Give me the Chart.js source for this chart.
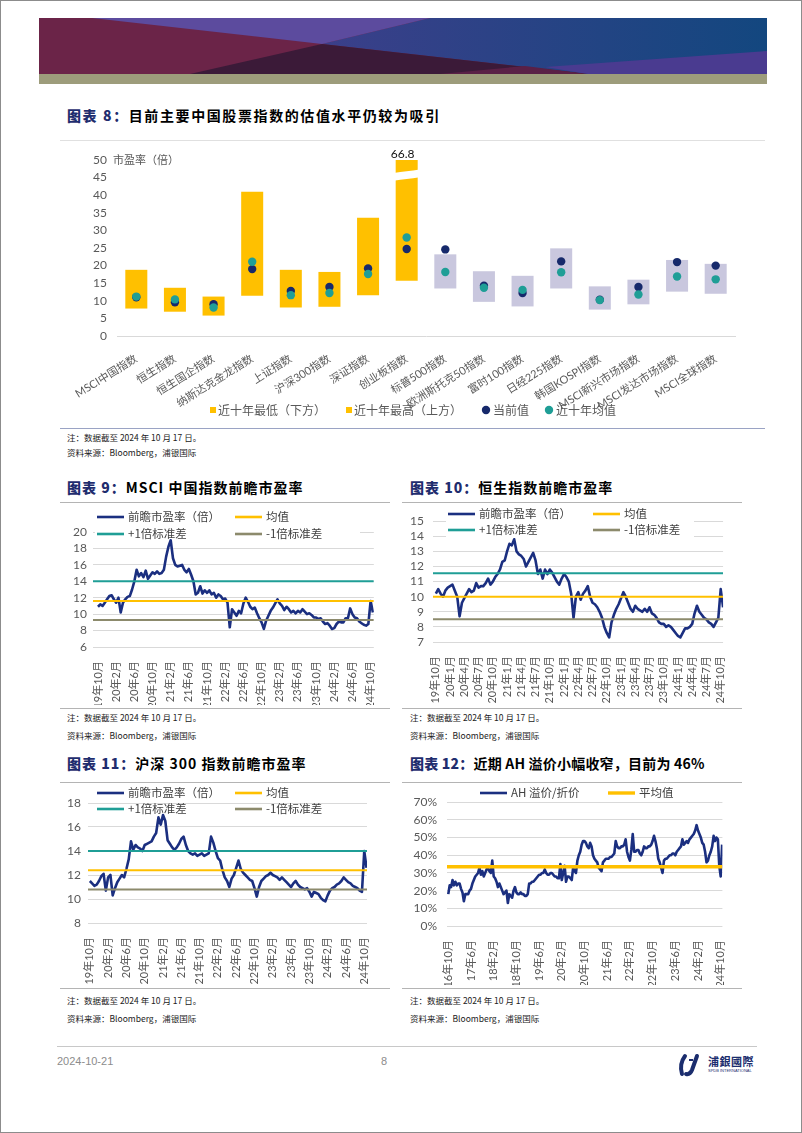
<!DOCTYPE html>
<html>
<head>
<meta charset="utf-8">
<script src="https://cdn.jsdelivr.net/npm/chart.js@4.4.1/dist/chart.umd.min.js"></script>
<style>
  html, body { margin: 0; padding: 0; background: #fff; }
  #page { position: relative; width: 802px; height: 1133px; overflow: hidden; font-family: 'Noto Sans CJK SC', sans-serif; }
  .frame { position: absolute; left: 0; top: 0; width: 800px; height: 1131px; border: 1px solid #8c8c8c; }
  .abs { position: absolute; }
  .title { position: absolute; font-weight: 700; font-size: 14px; line-height: 18px; color: #000; white-space: nowrap; letter-spacing: 1px; }
  .title b { color: #1f2d6e; }
  .note { position: absolute; font-size: 8.5px; line-height: 11px; color: #222; white-space: nowrap; }
  .hr { position: absolute; height: 1px; }
  canvas { position: absolute; }
</style>
</head>
<body>
<div id="page">
  <div class="frame"></div>

  <!-- header banner -->
  <svg class="abs" style="left:0;top:0" width="802" height="90">
    <defs>
      <linearGradient id="gb" x1="322" y1="0" x2="767" y2="0" gradientUnits="userSpaceOnUse">
        <stop offset="0" stop-color="#3b3f8a"/><stop offset="1" stop-color="#13477f"/>
      </linearGradient>
    </defs>
    <rect x="39" y="18" width="728" height="56" fill="#6b2448"/>
    <polygon points="430,18 767,18 767,74 588,74 322,44" fill="url(#gb)"/>
    <polygon points="92,18 430,18 322,44" fill="#5c4b9e"/>
    <polygon points="322,44 190,74 588,74" fill="#3b1a38"/>
    <polygon points="440,74 588,74 525,66" fill="#5a2046"/>
    <polygon points="767,51 767,74 588,74 545,67" fill="#4a3b90"/>
    <rect x="39" y="74" width="728" height="10" fill="#9d9c7b"/>
  </svg>

  <div class="title" style="left:67px;top:106px;letter-spacing:1.6px"><b>图表 8：</b>目前主要中国股票指数的估值水平仍较为吸引</div>
  <div class="hr" style="left:60px;top:140px;width:705px;background:#e0e0e0"></div>
  <canvas id="c8" width="710" height="295" style="left:60px;top:130px"></canvas>
  <div class="hr" style="left:60px;top:428px;width:705px;background:#9aa3c4"></div>
  <div class="note" style="left:67px;top:432px">注：数据截至 2024 年 10 月 17 日。</div>
  <div class="note" style="left:67px;top:447px">资料来源：Bloomberg，浦银国际</div>

  <div class="title" style="left:67px;top:478px"><b>图表 9：</b>MSCI 中国指数前瞻市盈率</div>
  <div class="title" style="left:410px;top:478px"><b>图表 10：</b>恒生指数前瞻市盈率</div>
  <div class="hr" style="left:60px;top:502px;width:330px;background:#b4b4b4"></div>
  <div class="hr" style="left:402px;top:502px;width:340px;background:#b4b4b4"></div>
  <canvas id="c9" width="330" height="200" style="left:60px;top:505px"></canvas>
  <canvas id="c10" width="340" height="200" style="left:400px;top:505px"></canvas>
  <div class="hr" style="left:60px;top:708px;width:330px;background:#b4b4b4"></div>
  <div class="hr" style="left:402px;top:708px;width:340px;background:#b4b4b4"></div>
  <div class="note" style="left:67px;top:712px">注：数据截至 2024 年 10 月 17 日。</div>
  <div class="note" style="left:67px;top:730px">资料来源：Bloomberg，浦银国际</div>
  <div class="note" style="left:410px;top:712px">注：数据截至 2024 年 10 月 17 日。</div>
  <div class="note" style="left:410px;top:730px">资料来源：Bloomberg，浦银国际</div>

  <div class="title" style="left:67px;top:754px"><b>图表 11：</b>沪深 300 指数前瞻市盈率</div>
  <div class="title" style="left:410px;top:754px;letter-spacing:0.2px"><b>图表 12：</b>近期 AH 溢价小幅收窄，目前为 46%</div>
  <div class="hr" style="left:60px;top:782px;width:330px;background:#b4b4b4"></div>
  <div class="hr" style="left:402px;top:782px;width:340px;background:#b4b4b4"></div>
  <canvas id="c11" width="330" height="200" style="left:60px;top:785px"></canvas>
  <canvas id="c12" width="340" height="200" style="left:400px;top:785px"></canvas>
  <div class="hr" style="left:60px;top:988px;width:330px;background:#b4b4b4"></div>
  <div class="hr" style="left:402px;top:988px;width:340px;background:#b4b4b4"></div>
  <div class="note" style="left:67px;top:995px">注：数据截至 2024 年 10 月 17 日。</div>
  <div class="note" style="left:67px;top:1013px">资料来源：Bloomberg，浦银国际</div>
  <div class="note" style="left:410px;top:995px">注：数据截至 2024 年 10 月 17 日。</div>
  <div class="note" style="left:410px;top:1013px">资料来源：Bloomberg，浦银国际</div>

  <!-- footer -->
  <div class="hr" style="left:57px;top:1046px;width:700px;background:#c8c8c8"></div>
  <div class="abs" style="left:57px;top:1055px;font:11px 'Liberation Sans',Arial,sans-serif;color:#8c8c8c">2024-10-21</div>
  <div class="abs" style="left:381px;top:1055px;font:11px 'Liberation Sans',Arial,sans-serif;color:#8c8c8c">8</div>
  <svg class="abs" style="left:676px;top:1052px" width="30" height="26">
    <path d="M9 4 Q3 12 6 22" stroke="#1b2d6e" stroke-width="4" fill="none" stroke-linecap="round"/>
    <path d="M21 4 L16 18 Q14 23 10 22" stroke="#1b2d6e" stroke-width="4" fill="none" stroke-linecap="round"/>
    <path d="M13 8 L17 8" stroke="#1b2d6e" stroke-width="2" fill="none"/>
  </svg>
  <div class="abs" style="left:708px;top:1053px;font:700 11px 'Noto Sans CJK TC',sans-serif;color:#1b2d6e;letter-spacing:0.5px">浦銀國際</div>
  <div class="abs" style="left:708px;top:1068px;font:4px 'Liberation Sans',sans-serif;color:#1b2d6e">SPDB INTERNATIONAL</div>
</div>

<script>
const NAVY = '#1b2f80';
const DOT_NAVY = '#16296b';
const TEAL = '#1f9e96';
const YELLOW = '#ffc000';
const LAVENDER = '#c9c7de';
const OLIVE = '#8c8a6c';
const TXT = '#595959';

Chart.defaults.font.family = "Lato, 'Noto Sans CJK SC', sans-serif";
Chart.defaults.color = TXT;

// ---------- 图表8 ----------
const indexNames = ['MSCI中国指数', '恒生指数', '恒生国企指数', '纳斯达克金龙指数', '上证指数', '沪深300指数', '深证指数', '创业板指数',
  '标普500指数', '欧洲斯托克50指数', '富时100指数', '日经225指数', '韩国KOSPI指数', 'MSCI新兴市场指数', 'MSCI发达市场指数', 'MSCI全球指数'];
const peLow  = [7.8, 6.9, 5.8, 11.4, 8.1, 8.3, 11.6, 15.7, 13.5, 9.7, 8.4, 13.5, 7.5, 9.0, 12.6, 12.0];
const peHigh = [18.8, 13.7, 11.2, 41.0, 18.8, 18.2, 33.6, 66.8, 23.2, 18.4, 17.1, 24.9, 14.1, 16.0, 21.6, 20.5];
const peNow  = [11.0, 9.6, 9.0, 19.0, 12.8, 13.9, 19.2, 24.7, 24.6, 14.3, 12.2, 21.2, 10.3, 13.9, 21.0, 20.0];
const peAvg  = [11.2, 10.4, 8.1, 21.1, 11.6, 12.2, 17.6, 28.0, 18.2, 13.7, 13.1, 18.1, 10.2, 11.8, 16.9, 16.1];
const chinaCount = 8;

// ---------- 图表9 MSCI中国 前瞻市盈率（每半月一个点，19年10月起）----------
const msciPE = [
  10.9, 11.2, 11.0, 11.4, 11.8, 12.2, 12.3, 11.8, 11.4, 12.0,
  10.2, 11.4, 11.8, 12.1, 12.2, 13.0, 14.0, 15.4, 14.6, 15.0,
  14.5, 15.3, 14.3, 14.7, 15.1, 14.9, 15.2, 14.9, 15.0, 15.4,
  17.0, 18.2, 19.0, 16.8, 16.0, 15.8, 15.9, 16.0, 15.4, 15.1,
  15.5, 14.8, 14.0, 12.4, 12.6, 13.4, 12.5, 12.9, 12.6, 12.9,
  12.4, 12.6, 12.0, 12.4, 12.2, 11.8, 11.9, 11.4, 8.4, 10.6,
  10.2, 9.8, 10.4, 10.1, 11.3, 12.0, 11.5, 10.9, 10.6, 10.8,
  10.1, 9.5, 9.0, 8.2, 9.2, 9.8, 10.4, 10.8, 11.3, 11.8,
  11.3, 11.0, 10.5, 10.9, 10.6, 10.2, 10.4, 10.1, 10.4, 10.2,
  10.6, 10.3, 10.0, 10.1, 9.9, 9.6, 9.6, 9.4, 9.5, 9.1,
  8.8, 8.9, 8.6, 8.2, 8.3, 8.8, 9.1, 9.0, 9.0, 9.5,
  9.5, 10.7, 10.0, 9.6, 9.5, 9.1, 8.9, 8.7, 8.6, 8.8,
  11.6, 10.2
];
const msciMean = 11.6, msciUp = 14.0, msciDown = 9.3;
const ticks4m = ['19年10月', '20年2月', '20年6月', '20年10月', '21年2月', '21年6月', '21年10月', '22年2月',
  '22年6月', '22年10月', '23年2月', '23年6月', '23年10月', '24年2月', '24年6月', '24年10月'];

// ---------- 图表10 恒生指数 前瞻市盈率 ----------
const hsiPE = [
  10.2, 10.5, 10.2, 10.0, 10.4, 10.6, 10.7, 10.8, 10.4, 10.0,
  8.7, 9.6, 9.9, 10.2, 10.5, 10.3, 10.4, 10.9, 10.6, 10.7,
  10.7, 10.9, 11.2, 10.8, 11.0, 11.3, 11.5, 11.8, 12.3, 12.4,
  13.0, 13.5, 13.4, 13.8, 13.0, 12.8, 12.7, 12.5, 12.0, 12.3,
  12.6, 12.9, 12.4, 11.5, 11.8, 11.2, 11.8, 11.5, 11.8, 11.6,
  11.3, 11.0, 10.8, 11.2, 11.5, 11.3, 11.0, 10.2, 8.6, 10.0,
  10.3, 9.8, 10.2, 10.4, 10.7, 10.0, 9.6, 9.5, 9.3, 9.0,
  8.6, 8.0, 7.6, 7.3, 8.3, 8.8, 9.2, 9.5, 9.9, 10.3,
  10.0, 9.6, 9.2, 9.0, 9.4, 9.2, 9.1, 9.0, 9.2, 9.0,
  9.3, 8.9, 8.8, 8.6, 8.3, 8.2, 8.2, 8.0, 8.1, 8.0,
  7.8, 7.6, 7.4, 7.3, 7.6, 7.9, 7.9, 8.0, 8.2, 8.9,
  9.4, 9.0, 8.8, 8.6, 8.5, 8.3, 8.2, 8.0, 8.3, 8.6,
  10.5, 9.3
];
const hsiMean = 10.0, hsiUp = 11.55, hsiDown = 8.5;
const ticks3m = ['19年10月', '20年1月', '20年4月', '20年7月', '20年10月', '21年1月', '21年4月', '21年7月', '21年10月',
  '22年1月', '22年4月', '22年7月', '22年10月', '23年1月', '23年4月', '23年7月', '23年10月', '24年1月', '24年4月', '24年7月', '24年10月'];

// ---------- 图表11 沪深300 前瞻市盈率 ----------
const csiPE = [
  11.5, 11.3, 11.1, 11.2, 11.5, 11.9, 12.1, 10.7, 11.8, 12.0,
  10.3, 10.9, 11.4, 11.7, 12.0, 11.8, 12.5, 13.3, 14.8, 14.1,
  14.5, 14.3, 14.2, 14.0, 14.5, 14.6, 14.7, 14.8, 15.2, 15.5,
  16.8, 16.2, 17.0, 16.5, 14.9, 14.6, 14.3, 14.1, 14.3, 14.6,
  15.0, 15.2, 14.5, 14.0, 13.8, 13.7, 13.8, 13.6, 13.7, 13.8,
  13.6, 13.7, 13.8, 15.2, 14.7, 14.0, 13.4, 13.2, 12.4, 11.8,
  11.5, 11.0, 11.7, 12.0, 12.6, 13.2, 12.5, 12.2, 12.0, 11.8,
  11.6, 11.5, 10.9, 10.2, 11.0, 11.5, 11.7, 11.9, 12.0, 12.2,
  12.0, 11.9, 11.8, 11.6, 11.8, 11.6, 11.4, 11.2, 11.0, 11.3,
  11.5, 11.2, 11.0, 10.9, 10.8, 10.9, 10.6, 10.2, 10.6, 10.5,
  10.4, 10.1, 9.9, 9.8, 10.3, 10.7, 10.9, 11.0, 11.2, 11.3,
  11.5, 11.8, 11.6, 11.4, 11.3, 11.1, 11.0, 10.9, 10.7, 10.6,
  14.0, 12.6
];
const csiMean = 12.4, csiUp = 14.0, csiDown = 10.8;

// ---------- 图表12 AH溢价/折价（%，16年10月起）----------
const ahPremium = [
  18, 23, 22, 26, 23, 25, 23, 24, 24, 21,
  19, 14, 18, 18, 18, 20, 21, 24, 26, 28,
  29, 30, 33, 29, 31, 28, 30, 32, 33, 31,
  30, 37, 28, 27, 25, 22, 24, 22, 20, 18,
  19, 20, 13, 18, 17, 16, 20, 22, 19, 18,
  18, 19, 18, 18, 17, 17, 18, 24, 24, 25,
  25, 26, 27, 28, 29, 29, 30, 30, 32, 30,
  29, 29, 30, 30, 29, 28, 28, 27, 27, 35,
  26, 30, 34, 25, 28, 28, 27, 26, 33, 31,
  30, 37, 40, 42, 46, 48, 48, 47, 45, 44,
  47, 45, 40, 38, 37, 36, 33, 32, 31, 36,
  37, 38, 38, 38, 39, 39, 40, 41, 48, 45,
  44, 44, 45, 45, 46, 49, 42, 39, 37, 43,
  52, 42, 42, 43, 43, 41, 40, 42, 45, 44,
  44, 45, 45, 46, 48, 51, 48, 44, 38, 36,
  33, 30, 37, 38, 38, 39, 40, 40, 41, 41,
  40, 42, 43, 44, 45, 49, 46, 47, 48, 47,
  49, 50, 51, 52, 54, 57, 54, 52, 50, 47,
  46, 42, 36, 37, 40, 42, 45, 51, 48, 50,
  49, 34, 28, 46
];
const ahMean = 33.5;
const ticks8m = ['16年10月', '17年6月', '18年2月', '18年10月', '19年6月', '20年2月', '20年10月', '21年6月',
  '22年2月', '22年10月', '23年6月', '24年2月', '24年10月'];

const PER_MONTH = 2;

// ---------- plugins ----------
const mainDecor = {
  id: 'mainDecor',
  afterDatasetsDraw(chart) {
    const { ctx, chartArea, scales: { y } } = chart;
    const meta = chart.getDatasetMeta(1);
    ctx.save();
    peHigh.forEach((h, i) => {
      if (h <= y.max) return;
      const bar = meta.data[i];
      const l = bar.x - bar.width / 2 - 2, r = bar.x + bar.width / 2 + 2;
      const t1 = y.getPixelForValue(46.3), t2 = y.getPixelForValue(47.3);
      const b1 = y.getPixelForValue(44.1), b2 = y.getPixelForValue(45.1);
      ctx.fillStyle = '#fff';
      ctx.beginPath();
      ctx.moveTo(l, t1);
      ctx.bezierCurveTo(l + (r - l) * 0.35, t1 - 2, l + (r - l) * 0.65, t2 + 2, r, t2);
      ctx.lineTo(r, b2);
      ctx.bezierCurveTo(l + (r - l) * 0.65, b2 + 2, l + (r - l) * 0.35, b1 - 2, l, b1);
      ctx.closePath();
      ctx.fill();
      ctx.fillStyle = '#111';
      ctx.font = "12px Lato, sans-serif";
      ctx.textAlign = 'center';
      ctx.textBaseline = 'middle';
      ctx.fillText(h.toFixed(1), bar.x - 4, chartArea.top - 6);
    });
    ctx.fillStyle = TXT;
    ctx.font = "11px 'Noto Sans CJK SC', sans-serif";
    ctx.textAlign = 'left';
    ctx.textBaseline = 'middle';
    ctx.fillText('市盈率（倍）', chartArea.left - 4, chartArea.top);
    ctx.restore();
  },
  afterDraw(chart, args, o) {
    const ctx = chart.ctx;
    ctx.save();
    ctx.font = "12px 'Noto Sans CJK SC', sans-serif";
    ctx.textBaseline = 'middle';
    chart.data.datasets.forEach((ds, i) => {
      const cx = o.x[i], cy = o.y;
      ctx.fillStyle = ds.legendColor;
      ctx.beginPath();
      if (ds.type === 'line') ctx.arc(cx, cy, 4.2, 0, Math.PI * 2);
      else ctx.rect(cx - 3, cy - 3, 6, 6);
      ctx.fill();
      ctx.fillStyle = TXT;
      ctx.fillText(ds.label, cx + (ds.type === 'line' ? 7 : 5), cy);
    });
    ctx.restore();
  }
};

const lineLegend = {
  id: 'lineLegend',
  beforeDatasetsDraw(chart, args, o) {
    if (!o.box) return;
    const ctx = chart.ctx;
    ctx.save();
    ctx.fillStyle = '#fff';
    ctx.fillRect(o.box[0], o.box[1], o.box[2], o.box[3]);
    ctx.restore();
  },
  afterDatasetsDraw(chart, args, o) {
    const ctx = chart.ctx;
    ctx.save();
    ctx.font = "11.5px 'Noto Sans CJK SC', sans-serif";
    ctx.textBaseline = 'middle';
    chart.data.datasets.forEach((ds, i) => {
      const x = o.x[i % o.x.length], y = o.y[Math.floor(i / o.x.length)];
      ctx.strokeStyle = ds.borderColor;
      ctx.lineWidth = Math.max(ds.borderWidth, 2.6);
      ctx.beginPath();
      ctx.moveTo(x, y);
      ctx.lineTo(x + 27, y);
      ctx.stroke();
      ctx.fillStyle = '#404040';
      ctx.fillText(ds.label, x + 31, y);
    });
    ctx.restore();
  }
};

// ---------- 图表8 ----------
new Chart(document.getElementById('c8'), {
  type: 'bar',
  data: {
    labels: indexNames,
    datasets: [
      { label: '近十年最低（下方）', data: peLow, backgroundColor: 'rgba(0,0,0,0)', legendColor: YELLOW,
        stack: 'range', order: 2, clip: 0 },
      { label: '近十年最高（上方）', data: peHigh.map((h, i) => h - peLow[i]), legendColor: YELLOW,
        backgroundColor: indexNames.map((_, i) => i < chinaCount ? YELLOW : LAVENDER), stack: 'range', order: 2, clip: 0 },
      { type: 'line', label: '当前值', data: peNow, showLine: false, pointRadius: 4.2, pointBorderWidth: 0,
        pointBackgroundColor: DOT_NAVY, legendColor: DOT_NAVY, stack: 'now', order: 1 },
      { type: 'line', label: '近十年均值', data: peAvg, showLine: false, pointRadius: 4.2, pointBorderWidth: 0,
        pointBackgroundColor: TEAL, legendColor: TEAL, stack: 'avg', order: 0 }
    ]
  },
  options: {
    responsive: false,
    animation: false,
    events: [],
    barPercentage: 0.57,
    categoryPercentage: 1.0,
    layout: { padding: { top: 30, right: 35, left: 0, bottom: 0 } },
    scales: {
      x: {
        stacked: true,
        grid: { display: false },
        border: { display: true, color: '#d9d9d9' },
        ticks: { autoSkip: false, minRotation: 32, maxRotation: 32, padding: 8, font: { size: 11 }, color: TXT },
        afterFit: (s) => { s.height = 89; }
      },
      y: {
        stacked: true,
        min: 0, max: 50,
        grid: { display: false, drawTicks: false },
        border: { display: false },
        ticks: { stepSize: 5, autoSkip: false, padding: 10, font: { size: 12 }, color: TXT },
        afterFit: (s) => { s.width = 57; }
      }
    },
    plugins: {
      legend: { display: false },
      tooltip: { enabled: false },
      mainDecor: { x: [153, 289, 426, 489], y: 280 }
    }
  },
  plugins: [mainDecor]
});

// ---------- small line charts ----------
function lineChart(id, o) {
  const series = o.values.map((v, j) => ({ x: j / PER_MONTH, y: v }));
  const datasets = [{ label: o.label, data: series, borderColor: NAVY, borderWidth: 2.6, order: 9 }];
  o.refs.forEach((r) => datasets.push({
    label: r.label, data: [{ x: o.xMin, y: r.value }, { x: o.xMax, y: r.value }],
    borderColor: r.color, borderWidth: r.width || 2, order: 1
  }));
  new Chart(document.getElementById(id), {
    type: 'line',
    data: { datasets },
    options: {
      responsive: false,
      animation: false,
      events: [],
      elements: { point: { radius: 0 }, line: { tension: 0, borderJoinStyle: 'round' } },
      layout: { padding: { top: o.area.top, right: o.area.right, left: 0, bottom: 0 } },
      scales: {
        x: {
          type: 'linear', min: o.xMin, max: o.xMax,
          grid: { display: false }, border: { display: false },
          afterBuildTicks: (s) => { s.ticks = o.ticks.map((t, i) => ({ value: i * o.step })); },
          afterFit: (s) => { s.height = o.area.xh; },
          ticks: { autoSkip: false, minRotation: 90, maxRotation: 90, padding: 6, font: { size: 11 }, color: TXT,
            callback: (v, i) => o.ticks[i] }
        },
        y: {
          min: o.yMin, max: o.yMax,
          grid: { color: '#d9d9d9', drawTicks: false },
          border: { display: false },
          ticks: { stepSize: o.yStep, autoSkip: false, padding: o.area.lp, font: { size: 12 }, color: TXT,
            callback: o.yFmt || ((v) => v) },
          afterFit: (s) => { s.width = o.area.left; }
        }
      },
      plugins: { legend: { display: false }, tooltip: { enabled: false }, lineLegend: o.legend }
    },
    plugins: [lineLegend]
  });
}

lineChart('c9', {
  label: '前瞻市盈率（倍）', values: msciPE,
  refs: [{ label: '均值', value: msciMean, color: YELLOW }, { label: '+1倍标准差', value: msciUp, color: TEAL },
         { label: '-1倍标准差', value: msciDown, color: OLIVE }],
  xMin: -1.1, xMax: 60.7, ticks: ticks4m, step: 4,
  yMin: 6, yMax: 20, yStep: 2,
  area: { left: 33, right: 15, top: 27, xh: 58, lp: 6 },
  legend: { x: [37, 175], y: [12, 29], box: [35, 2, 265, 34] }
});

lineChart('c10', {
  label: '前瞻市盈率（倍）', values: hsiPE,
  refs: [{ label: '均值', value: hsiMean, color: YELLOW }, { label: '+1倍标准差', value: hsiUp, color: TEAL },
         { label: '-1倍标准差', value: hsiDown, color: OLIVE }],
  xMin: -0.6, xMax: 60.5, ticks: ticks3m, step: 3,
  yMin: 7, yMax: 15, yStep: 1,
  area: { left: 33, right: 12, top: 10, xh: 63, lp: 9 },
  legend: { x: [48, 193], y: [9, 25], box: [46, 1, 248, 32] }
});

lineChart('c11', {
  label: '前瞻市盈率（倍）', values: csiPE,
  refs: [{ label: '均值', value: csiMean, color: YELLOW }, { label: '+1倍标准差', value: csiUp, color: TEAL },
         { label: '-1倍标准差', value: csiDown, color: OLIVE }],
  xMin: -0.4, xMax: 60.6, ticks: ticks4m, step: 4,
  yMin: 8, yMax: 18, yStep: 2,
  area: { left: 28, right: 23, top: 18, xh: 62, lp: 7 },
  legend: { x: [37, 175], y: [8, 24] }
});

lineChart('c12', {
  label: 'AH 溢价/折价', values: ahPremium,
  refs: [{ label: '平均值', value: ahMean, color: YELLOW, width: 3.4 }],
  xMin: -0.45, xMax: 96.6, ticks: ticks8m, step: 8,
  yMin: 0, yMax: 70, yStep: 10, yFmt: (v) => v + '%',
  area: { left: 47, right: 15, top: 12, xh: 59, lp: 10 },
  legend: { x: [80, 208], y: [8], box: [78, 1, 200, 14] }
});
</script>
</body>
</html>
